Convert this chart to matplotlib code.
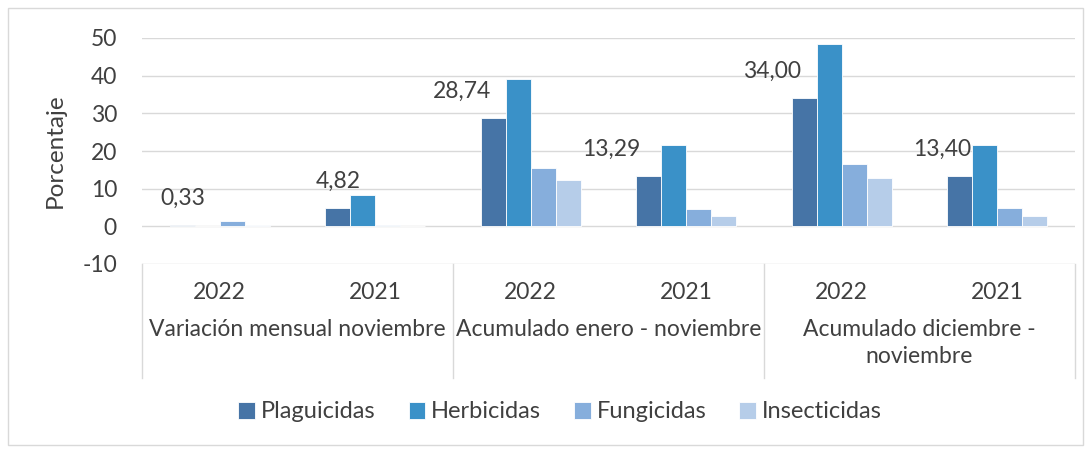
import matplotlib.pyplot as plt
import matplotlib.transforms as mtransforms
import numpy as np

plt.rcParams['font.family'] = ['Lato', 'DejaVu Sans']
plt.rcParams['axes.unicode_minus'] = False

years = ["2022", "2021", "2022", "2021", "2022", "2021"]
groups = ["Variación mensual noviembre", "Acumulado enero - noviembre", "Acumulado diciembre -\nnoviembre"]
series = ["Plaguicidas", "Herbicidas", "Fungicidas", "Insecticidas"]
plaguicidas = [0.33, 4.82, 28.74, 13.29, 34.00, 13.40]
herbicidas = [0.0, 8.2, 39.0, 21.5, 48.5, 21.6]
fungicidas = [1.5, 0.4, 15.5, 4.7, 16.5, 5.0]
insecticidas = [0.4, 0.1, 12.3, 2.8, 12.8, 2.8]
labels = ["0,33", "4,82", "28,74", "13,29", "34,00", "13,40"]

colors = ["#4674a6", "#3a91c8", "#86aedc", "#b6cde9"]
label_dx = [0, 0, -31, -38, -32, -18]   # px shift of the labels
fs = 16.5
tc = "#404040"

fig = plt.figure(figsize=(10.9, 4.5), dpi=100)
ax = fig.add_axes([142 / 1090, (450 - 264) / 450, (1075 - 142) / 1090, 226 / 450])

x = np.arange(len(years))
w = 0.16
data = [plaguicidas, herbicidas, fungicidas, insecticidas]
for i, (name, vals) in enumerate(zip(series, data)):
    ax.bar(x + (i - 1.5) * w, vals, w, color=colors[i], label=name,
           edgecolor="white", linewidth=0.6, zorder=3)

for xi, v, t, dx in zip(x, plaguicidas, labels, label_dx):
    ax.annotate(t, (xi - 1.5 * w, v), xytext=(dx * 0.72, 27 * 0.72), textcoords="offset points",
                ha="center", va="center", fontsize=fs, color=tc)

ax.set_xlim(-0.5, 5.5)
ax.set_ylim(-10, 50)
ax.set_yticks(range(-10, 51, 10))
ax.yaxis.grid(True, color="#d9d9d9", linewidth=1, zorder=0)
for s in ax.spines.values():
    s.set_visible(False)
ax.tick_params(axis="y", length=0, pad=18, labelsize=fs, labelcolor=tc)
ax.set_ylabel("Porcentaje", fontsize=fs + 1, color=tc, labelpad=12)

ax.set_xticks(x)
ax.set_xticklabels(years)
ax.tick_params(axis="x", length=0, pad=13, labelsize=fs, labelcolor=tc)

trans = mtransforms.blended_transform_factory(ax.transData, ax.transAxes)
for sep in [-0.5, 1.5, 3.5, 5.5]:
    ax.plot([sep, sep], [0, -114 / 226], transform=trans, color="#d9d9d9",
            linewidth=1, clip_on=False)
for k, g in enumerate(groups):
    ax.text(2 * k + 0.5, -55 / 226, g, transform=trans, ha="center", va="top",
            fontsize=fs, color=tc, linespacing=1.35)

fig.legend(loc="center", bbox_to_anchor=(560 / 1090, 1 - 412 / 450), ncol=4,
           frameon=False, fontsize=fs + 0.5, labelcolor=tc, handlelength=0.7,
           handleheight=0.7, columnspacing=1.4, handletextpad=0.25)

fig.patches.append(plt.Rectangle((8 / 1090, 5 / 450), 1075 / 1090, 437 / 450,
                                 transform=fig.transFigure, fill=False,
                                 edgecolor="#d9d9d9", linewidth=1))

fig.savefig("out.png", dpi=100)
